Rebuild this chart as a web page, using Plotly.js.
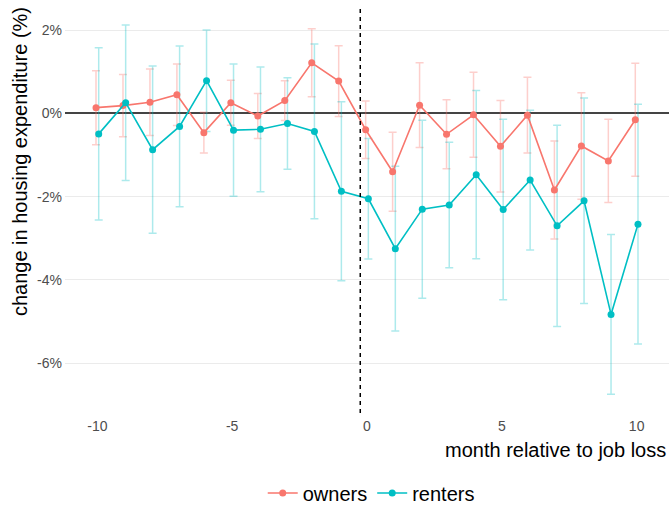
<!DOCTYPE html>
<html>
<head>
<meta charset="utf-8">
<script src="https://cdn.plot.ly/plotly-3.0.1.min.js"></script>
<style>html,body{margin:0;padding:0;background:#fff;}#chart{width:671px;height:510px;}</style>
</head>
<body>
<div id="chart"></div>
<script>
const months = [-10,-9,-8,-7,-6,-5,-4,-3,-2,-1,0,1,2,3,4,5,6,7,8,9,10];
const owners = [0.14,0.19,0.27,0.45,-0.46,0.26,-0.06,0.31,1.22,0.78,-0.39,-1.40,0.20,-0.50,-0.03,-0.79,-0.04,-1.84,-0.78,-1.14,-0.15];
const ownersErr = [0.89,0.75,0.80,0.74,0.49,0.54,0.54,0.48,0.82,0.85,0.69,0.95,1.02,0.83,1.02,1.10,0.91,1.18,1.28,1.00,1.36];
const renters = [-0.49,0.26,-0.87,-0.31,0.79,-0.40,-0.38,-0.24,-0.43,-1.87,-2.05,-3.25,-2.30,-2.20,-1.47,-2.31,-1.60,-2.70,-2.10,-4.83,-2.66];
const rentersErr = [2.07,1.87,2.01,1.93,1.22,1.59,1.50,1.10,2.10,2.15,1.45,1.98,2.14,1.51,2.02,2.17,1.68,2.42,2.47,1.92,2.88];
const seriesNames = ['owners','renters'];
const xTickVals = [-10,-5,0,5,10];
const xTickText = ['-10','-5','0','5','10'];
const yTickVals = [-6,-4,-2,0,2];
const yTickText = ['-6%','-4%','-2%','0%','2%'];
const jobLossMarker = -0.25;

const cOwn = '#F8766D', cRent = '#00BFC4';
const dodge = 0.05;
const xo = months.map(m => m - dodge);
const xr = months.map(m => m + dodge);
const font = 'Liberation Sans, Arial, sans-serif';

const errTrace = (x, y, e, col) => ({
  x, y, type: 'scatter', mode: 'markers', showlegend: false, hoverinfo: 'skip',
  marker: {size: 1, opacity: 0},
  error_y: {type: 'data', array: e, symmetric: true, color: col, thickness: 1.5, width: 4}
});
const lineTrace = (x, y, col, name) => ({
  x, y, type: 'scatter', mode: 'lines+markers', name,
  line: {color: col, width: 1.6},
  marker: {color: col, size: 7}
});

const data = [
  errTrace(xo, owners, ownersErr, 'rgba(248,118,109,0.35)'),
  errTrace(xr, renters, rentersErr, 'rgba(0,191,196,0.32)'),
  lineTrace(xo, owners, cOwn, seriesNames[0]),
  lineTrace(xr, renters, cRent, seriesNames[1])
];

const layout = {
  width: 671, height: 510,
  margin: {l: 65, r: 2, t: 7, b: 97, autoexpand: false},
  paper_bgcolor: '#fff', plot_bgcolor: '#fff',
  font: {family: font, color: '#000'},
  showlegend: true,
  legend: {orientation: 'h', x: 0.507, xanchor: 'center', y: -0.197, yanchor: 'middle',
           font: {size: 20, family: font, color: '#000'}, itemwidth: 30},
  xaxis: {range: [-11.2, 11.2], tickvals: xTickVals, ticktext: xTickText, showgrid: false,
          zeroline: false, showline: false, ticks: '', ticklabelstandoff: 3,
          tickfont: {size: 14, color: '#4d4d4d', family: font}},
  yaxis: {range: [-7.2, 2.56], tickvals: yTickVals, ticktext: yTickText, showgrid: true,
          gridcolor: '#ebebeb', gridwidth: 1, zeroline: true, zerolinecolor: '#444', zerolinewidth: 2,
          showline: false, ticks: '', ticklabelstandoff: 2,
          tickfont: {size: 14, color: '#4d4d4d', family: font}},
  shapes: [{type: 'line', xref: 'x', yref: 'paper', x0: jobLossMarker, x1: jobLossMarker, y0: 0, y1: 1,
            line: {color: '#000', width: 1.5, dash: '4px,4px'}}],
  annotations: [
    {text: 'month relative to job loss', xref: 'paper', yref: 'paper', x: 0.998, y: -0.091,
     xanchor: 'right', yanchor: 'middle', showarrow: false, font: {size: 20, family: font, color: '#000'}},
    {text: 'change in housing expenditure (%)', xref: 'paper', yref: 'paper', x: -0.0745, y: 0.618,
     xanchor: 'center', yanchor: 'middle', textangle: -90, showarrow: false,
     font: {size: 20, family: font, color: '#000'}}
  ]
};
Plotly.newPlot('chart', data, layout, {displayModeBar: false});
</script>
</body>
</html>
